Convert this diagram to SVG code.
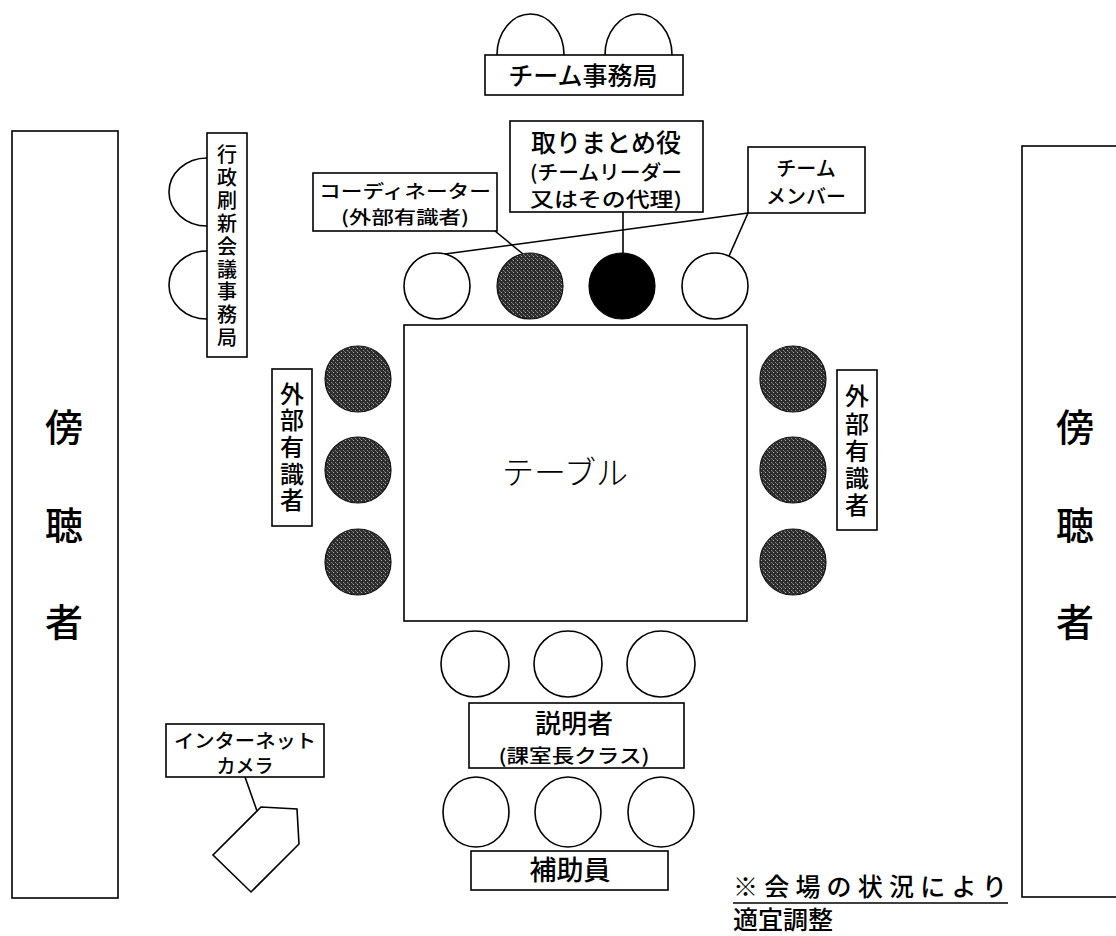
<svg xmlns="http://www.w3.org/2000/svg" width="1116" height="936" viewBox="0 0 1116 936">
<style>
.box{fill:#fff;stroke:#000;stroke-width:1.6}
.seat{fill:#fff;stroke:#000;stroke-width:1.6}
.dark{fill:url(#stip);stroke:#111;stroke-width:1.2}
.blk{fill:#000;stroke:#000;stroke-width:1.2}
.ln{stroke:#000;stroke-width:1.6;fill:none}
text{font-family:"Noto Sans CJK JP","Noto Sans CJK SC",sans-serif;fill:#000;font-weight:500}
.c{text-anchor:middle}
.serif{font-weight:300}
</style>
<defs>
<pattern id="stip" width="4" height="4" patternUnits="userSpaceOnUse">
<rect width="4" height="4" fill="#2c2c2c"/>
<rect x="1" y="0" width="1" height="1" fill="#b0b0b0"/>
<rect x="3" y="2" width="1" height="1" fill="#8a8a8a"/>
<rect x="0" y="3" width="1" height="1" fill="#6a6a6a"/>
</pattern>
</defs>
<rect width="1116" height="936" fill="#fff"/>

<g id="audience-left">
<rect class="box" x="12" y="131" width="106" height="767"/>
<text class="c" x="64" y="441" font-size="38">傍</text>
<text class="c" x="64" y="539" font-size="38">聴</text>
<text class="c" x="64" y="636" font-size="38">者</text>
</g>

<g id="audience-right">
<rect class="box" x="1022" y="146" width="110" height="751"/>
<text class="c" x="1075" y="441" font-size="38">傍</text>
<text class="c" x="1075" y="539" font-size="38">聴</text>
<text class="c" x="1075" y="636" font-size="38">者</text>
</g>

<g id="team-secretariat">
<path class="seat" d="M497,55 A33.5,41 0 0 1 564,55"/>
<path class="seat" d="M605,55 A33.5,41 0 0 1 672,55"/>
<rect class="box" x="485" y="55" width="198" height="40"/>
<text class="c" x="583" y="85" font-size="25">チーム事務局</text>
</g>

<g id="admin-secretariat">
<path class="seat" d="M207,158 A38,34 0 0 0 207,226"/>
<path class="seat" d="M207,251 A38,34 0 0 0 207,319"/>
<rect class="box" x="207" y="133" width="40" height="224"/>
<text class="c" font-size="20">
<tspan x="227" y="162">行</tspan><tspan x="227" y="185">政</tspan><tspan x="227" y="208">刷</tspan><tspan x="227" y="231">新</tspan><tspan x="227" y="254">会</tspan><tspan x="227" y="277">議</tspan><tspan x="227" y="299">事</tspan><tspan x="227" y="322">務</tspan><tspan x="227" y="345">局</tspan>
</text>
</g>

<g id="leader-label">
<rect class="box" x="510" y="121" width="193" height="91"/>
<text class="c" x="606" y="152" font-size="25">取りまとめ役</text>
<text class="c" x="606" y="180" font-size="20" textLength="152" lengthAdjust="spacingAndGlyphs">(チームリーダー</text>
<text class="c" x="606" y="207" font-size="20" textLength="152" lengthAdjust="spacingAndGlyphs">又はその代理)</text>
</g>

<g id="coordinator-label">
<rect class="box" x="313" y="173" width="184" height="58"/>
<text class="c" x="405" y="198" font-size="18.5" textLength="172" lengthAdjust="spacingAndGlyphs">コーディネーター</text>
<text class="c" x="405" y="224" font-size="18" textLength="128" lengthAdjust="spacingAndGlyphs">(外部有識者)</text>
</g>

<g id="member-label">
<rect class="box" x="748" y="147" width="117" height="66"/>
<text class="c" x="806" y="176" font-size="20">チーム</text>
<text class="c" x="806" y="204" font-size="20">メンバー</text>
</g>

<g id="connectors">
<line class="ln" x1="495" y1="231" x2="523" y2="254"/>
<line class="ln" x1="623" y1="212" x2="623" y2="253"/>
<line class="ln" x1="748" y1="213" x2="445" y2="254"/>
<line class="ln" x1="748" y1="213" x2="729" y2="256"/>
<line class="ln" x1="245" y1="777" x2="257" y2="811"/>
</g>

<g id="top-seats">
<ellipse class="seat" cx="437" cy="286" rx="33" ry="33"/>
<ellipse class="dark" cx="530" cy="286" rx="33" ry="33"/>
<ellipse class="blk" cx="622" cy="286" rx="33" ry="33"/>
<ellipse class="seat" cx="715" cy="286" rx="33" ry="33"/>
</g>

<g id="table">
<rect class="box" x="404" y="325" width="343" height="296"/>
<text class="c serif" x="565" y="484" font-size="32">テーブル</text>
</g>

<g id="left-experts">
<circle class="dark" cx="358" cy="379" r="33"/>
<circle class="dark" cx="358" cy="470" r="33"/>
<circle class="dark" cx="358" cy="562" r="33"/>
<rect class="box" x="272" y="369" width="40" height="157"/>
<text class="c" font-size="24">
<tspan x="292" y="403">外</tspan><tspan x="292" y="429">部</tspan><tspan x="292" y="456">有</tspan><tspan x="292" y="483">識</tspan><tspan x="292" y="509">者</tspan>
</text>
</g>

<g id="right-experts">
<circle class="dark" cx="793" cy="379" r="33"/>
<circle class="dark" cx="793" cy="470" r="33"/>
<circle class="dark" cx="793" cy="562" r="33"/>
<rect class="box" x="837" y="370" width="40" height="160"/>
<text class="c" font-size="24">
<tspan x="857" y="405">外</tspan><tspan x="857" y="433">部</tspan><tspan x="857" y="460">有</tspan><tspan x="857" y="487">識</tspan><tspan x="857" y="514">者</tspan>
</text>
</g>

<g id="presenters">
<ellipse class="seat" cx="475" cy="664" rx="34" ry="33"/>
<ellipse class="seat" cx="568" cy="664" rx="34" ry="33"/>
<ellipse class="seat" cx="661" cy="664" rx="34" ry="33"/>
<rect class="box" x="469" y="703" width="215" height="65"/>
<text class="c" x="574" y="733" font-size="26">説明者</text>
<text class="c" x="574" y="763" font-size="19" textLength="151" lengthAdjust="spacingAndGlyphs">(課室長クラス)</text>
</g>

<g id="assistants">
<ellipse class="seat" cx="476" cy="812" rx="33" ry="35"/>
<ellipse class="seat" cx="568" cy="812" rx="33" ry="35"/>
<ellipse class="seat" cx="661" cy="812" rx="33" ry="35"/>
<rect class="box" x="471" y="851" width="197" height="39"/>
<text class="c" x="570" y="880" font-size="27">補助員</text>
</g>

<g id="camera">
<rect class="box" x="166" y="724" width="158" height="53"/>
<text class="c" x="245" y="748" font-size="19" textLength="142" lengthAdjust="spacingAndGlyphs">インターネット</text>
<text class="c" x="245" y="773" font-size="19">カメラ</text>
<polygon class="box" points="261,807 297,809 299,844 251,892 213,855"/>
</g>

<g id="note">
<text x="733" y="896" font-size="25" letter-spacing="6.2">※会場の状況により</text>
<line class="ln" x1="733" y1="903" x2="1008" y2="903"/>
<text x="733" y="929" font-size="25">適宜調整</text>
</g>
</svg>
